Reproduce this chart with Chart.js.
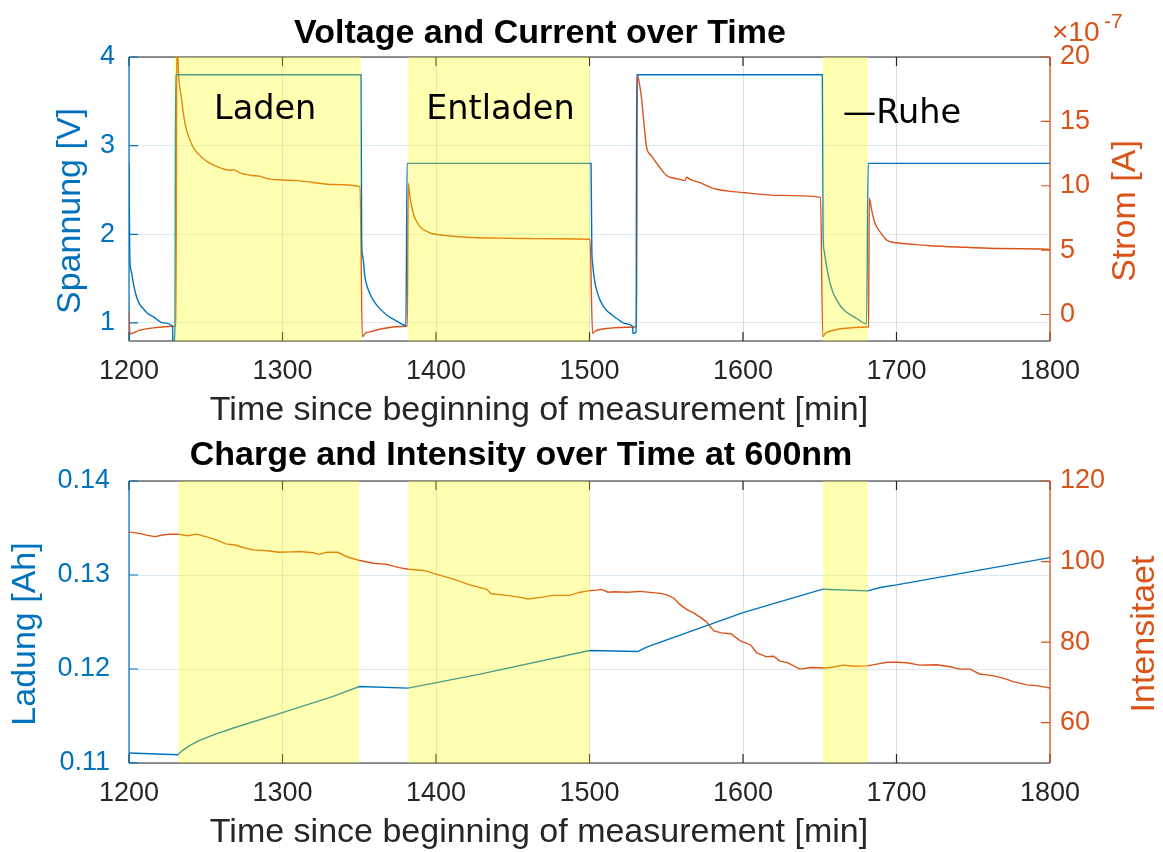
<!DOCTYPE html>
<html>
<head>
<meta charset="utf-8">
<title>Spannung, Strom, Ladung und Intensitaet</title>
<script src="https://cdn.jsdelivr.net/npm/chart.js@4.4.1/dist/chart.umd.min.js"></script>
<style>
  html, body { margin: 0; padding: 0; background: #fff; }
  #oben { position: absolute; left: 0; top: 0; width: 1163px; height: 430px; }
  #unten { position: absolute; left: 0; top: 430px; width: 1163px; height: 422px; }
</style>
</head>
<body>
<div id="oben"><canvas id="chartOben"></canvas></div>
<div id="unten"><canvas id="chartUnten"></canvas></div>
<script>
const blau = '#0072BD';
const orange = '#D95319';
const achsenFarbe = '#262626';
const schrift = "'Liberation Sans', Arial, Helvetica, sans-serif";

// Zeitachse [min]
const zeitTicks = [1200, 1300, 1400, 1500, 1600, 1700, 1800];

// Spannung [V]
const zeitSpannung = [1200, 1200.5, 1201.5, 1202.8, 1205, 1207, 1209.3, 1212, 1215.8, 1222.3, 1228.4, 1228.6, 1229.9,
  1230.4, 1351.1, 1351.6, 1352.3, 1353.7, 1355, 1357, 1359, 1361.4, 1364, 1367.9, 1374.4, 1380.4,
  1381.2, 1501, 1501.5, 1502, 1503.6, 1505, 1506.8, 1509, 1511.2, 1514, 1517.7, 1524.2, 1528.1,
  1528.3, 1530.4, 1530.7, 1651.7, 1652.2, 1652.8, 1654.5, 1656.7, 1658.5, 1661, 1664, 1667.5,
  1674, 1680.5, 1681.5, 1800.8, 1801.2];
const spannung = [2.81, 1.75, 1.58, 1.45, 1.29, 1.21, 1.16, 1.11, 1.07, 1.0, 0.96, 0.7, 0.93,
  3.8, 3.8, 1.9, 1.75, 1.52, 1.42, 1.33, 1.26, 1.2, 1.15, 1.09, 1.02, 0.97,
  2.8, 2.8, 1.85, 1.67, 1.45, 1.35, 1.26, 1.19, 1.14, 1.1, 1.05, 0.99, 0.96,
  0.88, 0.9, 3.8, 3.8, 2.0, 1.82, 1.63, 1.45, 1.35, 1.26, 1.18, 1.12,
  1.05, 0.99, 2.8, 2.8, 1.1];
const spannungTicks = [1, 2, 3, 4];

// Strom [1e-7 A]
const zeitStrom = [1200, 1200.6, 1201.7, 1207, 1215.8, 1228.4, 1230.6, 1231.2, 1232.3, 1234.3, 1235.4, 1237.5, 1241.8,
  1248.4, 1257, 1265.8, 1268, 1272.3, 1280, 1285, 1290, 1300, 1310, 1320, 1333, 1350.5,
  1352, 1353.7, 1357, 1365.7, 1379.8, 1381.3, 1382, 1383, 1385.2, 1387.4, 1390.6, 1396, 1404.8, 1420, 1440, 1460, 1480, 1500.3,
  1502, 1503.6, 1511.2, 1529.6, 1530.6, 1531.2, 1532.4, 1534, 1535, 1537.2, 1540.5, 1545.9, 1550.2, 1558.9, 1562.2, 1563.3,
  1565.5, 1572, 1580.6, 1602, 1625, 1650.5,
  1652, 1653.5, 1656.7, 1665.3, 1680.5, 1681.8, 1682.3, 1683.8, 1686, 1689.2, 1693.6, 1700, 1708.8, 1721.8, 1745, 1767.4, 1800, 1800.8];
const strom = [0.3, -1.5, -1.48, -1.22, -1.04, -0.91, -0.9, 22, 18.6, 16.7, 15.6, 14.3, 13.0,
  12.1, 11.5, 11.2, 11.25, 11.0, 10.8, 10.75, 10.55, 10.45, 10.4, 10.25, 10.1, 9.93,
  -1.74, -1.48, -1.35, -1.09, -0.91, -0.9, 10.2, 9.15, 7.86, 7.2, 6.7, 6.35, 6.15, 6.0, 5.93, 5.9, 5.88, 5.84,
  -1.48, -1.3, -1.09, -0.97, -0.95, 18.6, 18.0, 16.7, 15.4, 13.0, 12.3, 11.4, 10.8, 10.5, 10.4, 10.66,
  10.5, 10.24, 9.8, 9.45, 9.25, 9.1,
  -1.74, -1.48, -1.3, -1.09, -0.97, -0.95, 9.03, 8.1, 7.08, 6.43, 5.78, 5.57, 5.47, 5.34, 5.22, 5.13, 5.06, -1.8];
const stromTicks = [0, 5, 10, 15, 20];

// Ladung [Ah]
const zeitLadung = [1200, 1231.7, 1235, 1240, 1246, 1255, 1268, 1300.5, 1333, 1350, 1381.8, 1428.7,
  1500, 1531.4, 1537.2, 1600, 1652, 1681.2, 1690, 1700, 1800];
const ladung = [0.11106, 0.11088, 0.11135, 0.1119, 0.1124, 0.113, 0.11372, 0.11538, 0.11708, 0.11814, 0.11797, 0.11945,
  0.12197, 0.12186, 0.12233, 0.126, 0.12849, 0.12831, 0.1287, 0.12895, 0.13185];
const ladungTicks = [0.11, 0.12, 0.13, 0.14];

// Intensitaet bei 600nm
const zeitIntensitaet = [1200, 1207, 1212, 1217, 1222, 1227, 1232, 1238, 1244, 1250,
  1257, 1263, 1269, 1276, 1281, 1290, 1298, 1306, 1311, 1320,
  1324, 1329, 1336, 1342, 1349, 1359, 1368, 1376, 1382, 1392,
  1400, 1411, 1422, 1433, 1436, 1446, 1455, 1460, 1468, 1476,
  1487, 1494, 1500, 1505, 1508, 1512, 1516, 1525, 1533, 1546,
  1550, 1555, 1559, 1563, 1568, 1572, 1576, 1581, 1586, 1592,
  1598, 1605, 1609, 1615, 1620, 1624, 1629, 1637, 1644, 1654,
  1660, 1665, 1673, 1681, 1688, 1694, 1700, 1707, 1715, 1726,
  1735, 1741, 1748, 1754, 1760, 1765, 1771, 1776, 1785, 1791,
  1796, 1800];
const intensitaet = [107.3, 107.0, 106.5, 106.2, 106.6, 106.8, 106.8, 106.4, 106.8, 106.2,
  105.4, 104.4, 104.1, 103.3, 102.9, 102.7, 102.3, 102.4, 102.5, 102.2,
  101.8, 102.3, 102.3, 101.2, 100.4, 99.6, 99.3, 98.5, 98.1, 97.8,
  96.9, 95.7, 94.2, 93.1, 92.0, 91.6, 91.1, 90.7, 91.1, 91.6,
  91.6, 92.4, 92.8, 92.9, 93.1, 92.4, 92.5, 92.4, 92.6, 92.1,
  91.8, 90.9, 89.3, 88.2, 87.2, 86.2, 85.1, 82.8, 82.3, 82.1,
  80.4, 79.3, 77.3, 76.4, 76.5, 75.3, 74.9, 73.3, 73.7, 73.6,
  73.9, 74.3, 74.0, 74.1, 74.6, 75.0, 75.0, 74.9, 74.3, 74.4,
  73.9, 73.3, 73.3, 72.1, 71.8, 71.5, 70.9, 70.2, 69.4, 69.2,
  68.9, 68.6];
const intensitaetTicks = [60, 80, 100, 120];

// Phasen [Beginn, Ende] in min
const phasenOben = [[1229.3, 1351.1], [1381.5, 1500], [1651.9, 1681.2]];
const phasenUnten = [[1232, 1349.8], [1381.8, 1500.3], [1651.9, 1681.2]];
const phasenNamen = ['Laden', 'Entladen', '\u2014Ruhe'];
const phasenTextZeit = [1255.4, 1393.6, 1665];
const phasenTextSpannung = [3.3, 3.3, 3.25];

function punkte(xs, ys) {
  return xs.map((x, i) => ({ x: x, y: ys[i] }));
}

function vertikalerText(ctx, text, x, y, farbe) {
  ctx.save();
  ctx.translate(x, y);
  ctx.rotate(-Math.PI / 2);
  ctx.fillStyle = farbe;
  ctx.textAlign = 'center';
  ctx.textBaseline = 'middle';
  ctx.fillText(text, 0, 0);
  ctx.restore();
}

// Rahmen, Ticks nach innen, gelbe Phasen und Beschriftungen
function zeichner(cfg) {
  return {
    id: 'zeichner',
    beforeDatasetsDraw(chart) {
      const { ctx, chartArea: a, scales } = chart;
      const t = 9;
      ctx.save();
      ctx.lineWidth = 1.2;
      ctx.strokeStyle = achsenFarbe;
      ctx.beginPath();
      ctx.moveTo(a.left, a.top); ctx.lineTo(a.right, a.top);
      ctx.moveTo(a.left, a.bottom); ctx.lineTo(a.right, a.bottom);
      zeitTicks.forEach(v => {
        const x = scales.x.getPixelForValue(v);
        ctx.moveTo(x, a.bottom); ctx.lineTo(x, a.bottom - t);
        ctx.moveTo(x, a.top); ctx.lineTo(x, a.top + t);
      });
      ctx.stroke();

      ctx.strokeStyle = blau;
      ctx.beginPath();
      ctx.moveTo(a.left, a.top); ctx.lineTo(a.left, a.bottom);
      scales.y.ticks.forEach(tk => {
        const y = scales.y.getPixelForValue(tk.value);
        ctx.moveTo(a.left, y); ctx.lineTo(a.left + t, y);
      });
      ctx.stroke();

      ctx.strokeStyle = orange;
      ctx.beginPath();
      ctx.moveTo(a.right, a.top); ctx.lineTo(a.right, a.bottom);
      scales.y1.ticks.forEach(tk => {
        const y = scales.y1.getPixelForValue(tk.value);
        ctx.moveTo(a.right, y); ctx.lineTo(a.right - t, y);
      });
      ctx.stroke();
      ctx.restore();
    },
    afterDatasetsDraw(chart) {
      const { ctx, chartArea: a, scales } = chart;
      ctx.save();
      ctx.fillStyle = 'rgba(255, 255, 0, 0.3)';
      cfg.phasen.forEach(p => {
        const x0 = scales.x.getPixelForValue(p[0]);
        const x1 = scales.x.getPixelForValue(p[1]);
        ctx.fillRect(x0, a.top, x1 - x0, a.bottom - a.top);
      });
      if (cfg.phasenText) {
        ctx.fillStyle = '#000';
        ctx.font = "33.5px 'DejaVu Sans', sans-serif";
        ctx.textAlign = 'left';
        ctx.textBaseline = 'alphabetic';
        phasenNamen.forEach((txt, i) => {
          ctx.fillText(txt, scales.x.getPixelForValue(phasenTextZeit[i]),
            scales.y.getPixelForValue(phasenTextSpannung[i]));
        });
      }
      ctx.restore();
    },
    afterDraw(chart) {
      const { ctx, chartArea: a } = chart;
      ctx.save();
      ctx.textAlign = 'center';
      ctx.textBaseline = 'alphabetic';
      ctx.fillStyle = '#000';
      ctx.font = 'bold 34px ' + schrift;
      ctx.fillText(cfg.titel, cfg.titelX, cfg.titelY);

      ctx.fillStyle = achsenFarbe;
      ctx.font = '34px ' + schrift;
      ctx.fillText('Time since beginning of measurement [min]', 539, a.bottom + 79);

      const mitte = (a.top + a.bottom) / 2 + 12;
      vertikalerText(ctx, cfg.yTitel, cfg.yTitelX, mitte, blau);
      vertikalerText(ctx, cfg.y1Titel, cfg.y1TitelX, mitte, orange);

      if (cfg.exponent) {
        ctx.fillStyle = orange;
        ctx.textAlign = 'left';
        ctx.font = '28px ' + schrift;
        ctx.fillText('\u00d710', a.right + 2, a.top - 16);
        ctx.font = '21px ' + schrift;
        ctx.fillText('-7', a.right + 54, a.top - 29);
      }
      ctx.restore();
    }
  };
}

function optionen(o) {
  const tickFont = { family: schrift, size: 27 };
  return {
    responsive: true,
    maintainAspectRatio: false,
    animation: false,
    events: [],
    layout: { padding: { top: o.oben, left: 0, right: 0, bottom: 0 } },
    plugins: { legend: { display: false }, tooltip: { enabled: false } },
    scales: {
      x: {
        type: 'linear', min: 1200, max: 1800,
        afterBuildTicks: s => { s.ticks = zeitTicks.map(v => ({ value: v })); },
        afterFit: s => { s.height = 89; },
        grid: { color: 'rgba(38, 38, 38, 0.15)', drawTicks: false },
        border: { display: false },
        ticks: { color: achsenFarbe, font: tickFont, padding: 14, maxRotation: 0, callback: v => String(v) }
      },
      y: {
        type: 'linear', position: 'left', min: o.yMin, max: o.yMax,
        afterBuildTicks: s => { s.ticks = o.yTicks.map(v => ({ value: v })); },
        afterFit: s => { s.width = 129; },
        grid: { color: 'rgba(0, 114, 189, 0.15)', drawTicks: false },
        border: { display: false },
        ticks: { color: blau, font: tickFont, padding: o.yPad, callback: o.yFormat }
      },
      y1: {
        type: 'linear', position: 'right', min: o.y1Min, max: o.y1Max,
        afterBuildTicks: s => { s.ticks = o.y1Ticks.map(v => ({ value: v })); },
        afterFit: s => { s.width = 113; },
        grid: { display: false, drawTicks: false },
        border: { display: false },
        ticks: { color: orange, font: tickFont, padding: 10, callback: v => String(v) }
      }
    }
  };
}

function linie(daten, achse, farbe, glatt) {
  return { data: daten, yAxisID: achse, borderColor: farbe, borderWidth: 1.4,
    pointRadius: 0, tension: 0, fill: false,
    cubicInterpolationMode: glatt ? 'monotone' : 'default' };
}

new Chart(document.getElementById('chartOben'), {
  type: 'line',
  data: {
    datasets: [
      linie(punkte(zeitSpannung, spannung), 'y', blau, true),
      linie(punkte(zeitStrom, strom), 'y1', orange, true)
    ]
  },
  options: optionen({
    oben: 57, yMin: 0.796, yMax: 4, yTicks: spannungTicks, yPad: 14, yFormat: v => String(v),
    y1Min: -2.06, y1Max: 20, y1Ticks: stromTicks
  }),
  plugins: [zeichner({
    phasen: phasenOben, phasenText: true,
    titel: 'Voltage and Current over Time', titelX: 540, titelY: 43,
    yTitel: 'Spannung [V]', yTitelX: 71, y1Titel: 'Strom [A]', y1TitelX: 1126, exponent: true
  })]
});

new Chart(document.getElementById('chartUnten'), {
  type: 'line',
  data: {
    datasets: [
      linie(punkte(zeitLadung, ladung), 'y', blau, false),
      linie(punkte(zeitIntensitaet, intensitaet), 'y1', orange, false)
    ]
  },
  options: optionen({
    oben: 51, yMin: 0.11, yMax: 0.14, yTicks: ladungTicks, yPad: 19, yFormat: v => v.toFixed(2),
    y1Min: 50, y1Max: 120, y1Ticks: intensitaetTicks
  }),
  plugins: [zeichner({
    phasen: phasenUnten, phasenText: false,
    titel: 'Charge and Intensity over Time at 600nm', titelX: 521, titelY: 35,
    yTitel: 'Ladung [Ah]', yTitelX: 26, y1Titel: 'Intensitaet', y1TitelX: 1145, exponent: false
  })]
});
</script>
</body>
</html>
